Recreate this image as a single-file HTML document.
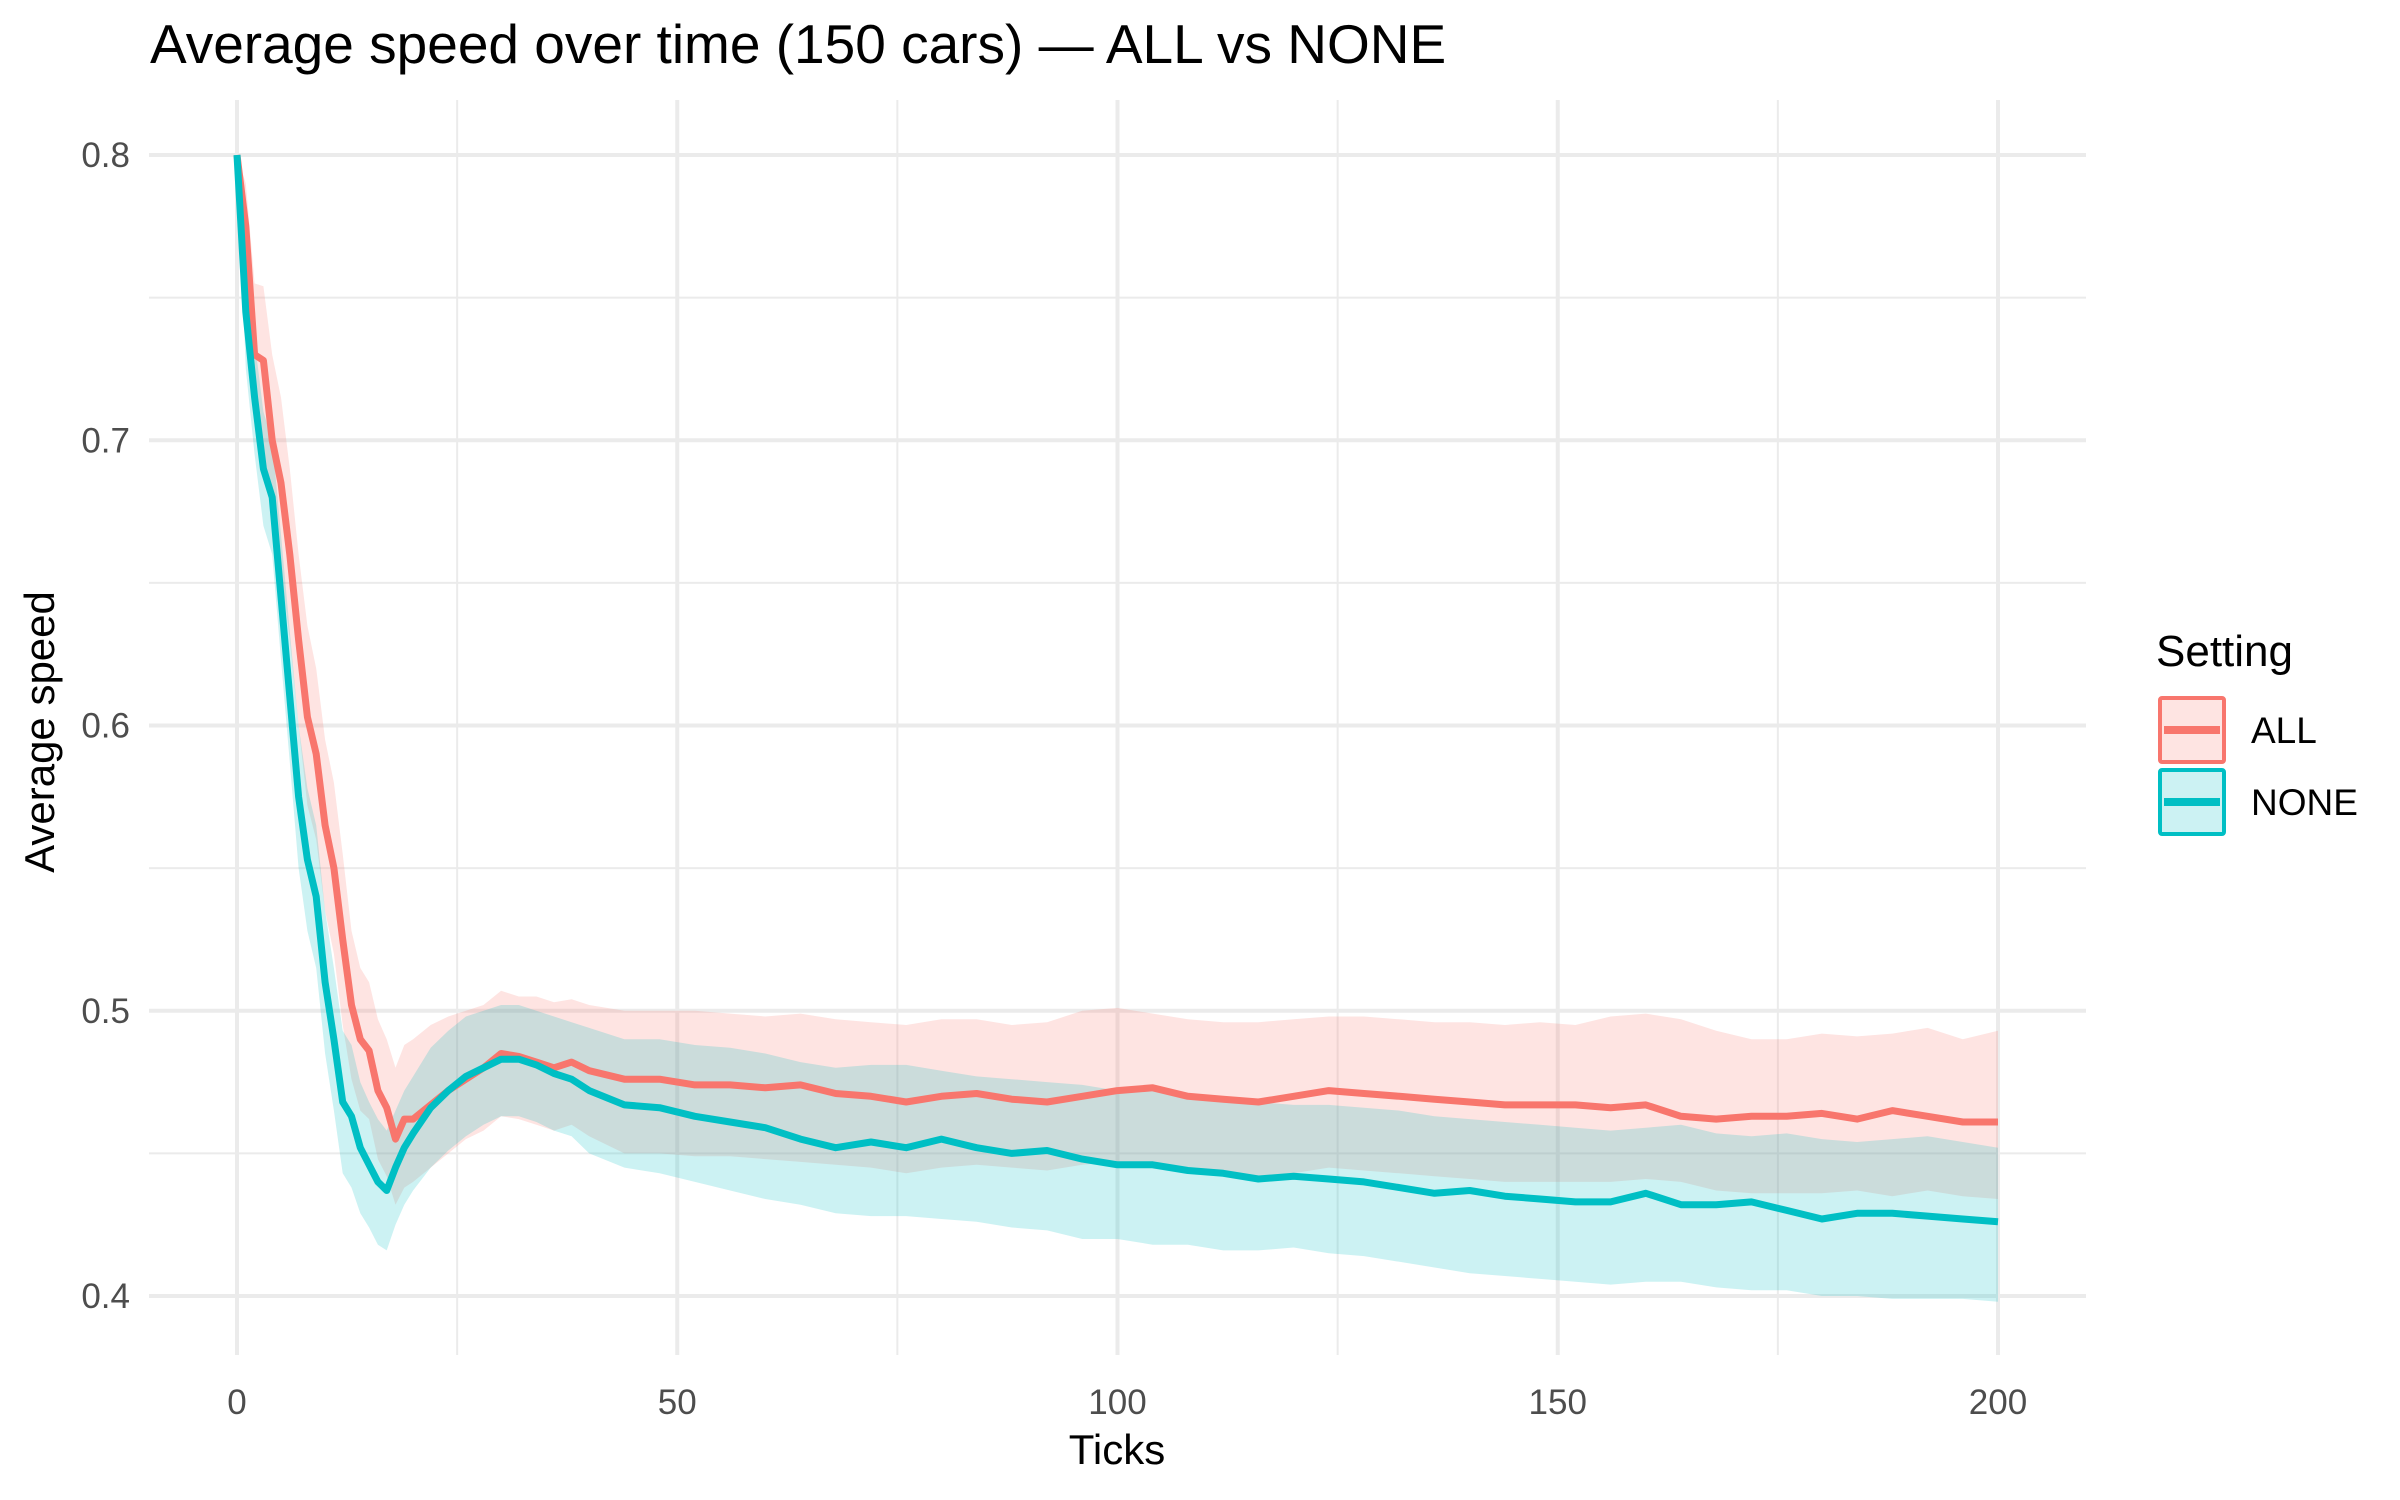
<!DOCTYPE html>
<html><head><meta charset="utf-8"><style>
html,body{margin:0;padding:0;background:#fff;}
svg{display:block;font-family:"Liberation Sans",sans-serif;}
</style></head><body>
<svg id="chart" width="2400" height="1500" viewBox="0 0 2400 1500" xmlns="http://www.w3.org/2000/svg">
<rect width="2400" height="1500" fill="#fff"/>
<g id="grid"></g>
<g id="bands"></g>
<g id="lines"></g>
<g id="axes"></g>
<text x="150" y="63" font-size="55" fill="#000">Average speed over time (150 cars) — ALL vs NONE</text>
<text x="1117" y="1464" font-size="42" text-anchor="middle" fill="#000">Ticks</text>
<text x="0" y="0" font-size="42" text-anchor="middle" fill="#000" transform="translate(54,732) rotate(-90)">Average speed</text>
<g>
<text x="2156" y="666" font-size="44" fill="#000">Setting</text>
<g>
<rect x="2160" y="698" width="64" height="64" fill="rgba(248,118,109,0.2)" stroke="#F8766D" stroke-width="4" rx="2"/>
<line x1="2164" y1="730" x2="2220" y2="730" stroke="#F8766D" stroke-width="8"/>
<text x="2251" y="743" font-size="37" fill="#000">ALL</text>
</g>
<g>
<rect x="2160" y="770" width="64" height="64" fill="rgba(0,191,196,0.2)" stroke="#00BFC4" stroke-width="4" rx="2"/>
<line x1="2164" y1="802" x2="2220" y2="802" stroke="#00BFC4" stroke-width="8"/>
<text x="2251" y="815" font-size="37" fill="#000">NONE</text>
</g>
</g>
</svg>
<script>
const ticks = [0,1,2,3,4,5,6,7,8,9,10,11,12,13,14,15,16,17,18,19,20,22,24,26,28,30,32,34,36,38,40,44,48,52,56,60,64,68,72,76,80,84,88,92,96,100,104,108,112,116,120,124,128,132,136,140,144,148,152,156,160,164,168,172,176,180,184,188,192,196,200];
const allMean = [0.80,0.775,0.73,0.728,0.70,0.685,0.66,0.63,0.603,0.59,0.565,0.55,0.525,0.502,0.49,0.486,0.472,0.466,0.455,0.462,0.462,0.467,0.472,0.476,0.48,0.485,0.484,0.482,0.48,0.482,0.479,0.476,0.476,0.474,0.474,0.473,0.474,0.471,0.47,0.468,0.47,0.471,0.469,0.468,0.47,0.472,0.473,0.47,0.469,0.468,0.47,0.472,0.471,0.47,0.469,0.468,0.467,0.467,0.467,0.466,0.467,0.463,0.462,0.463,0.463,0.464,0.462,0.465,0.463,0.461,0.461];
const allHi = [0.80,0.79,0.755,0.754,0.73,0.715,0.69,0.66,0.635,0.62,0.595,0.58,0.555,0.528,0.515,0.51,0.497,0.49,0.48,0.488,0.49,0.495,0.498,0.5,0.502,0.507,0.505,0.505,0.503,0.504,0.502,0.5,0.5,0.5,0.499,0.498,0.499,0.497,0.496,0.495,0.497,0.497,0.495,0.496,0.5,0.501,0.499,0.497,0.496,0.496,0.497,0.498,0.498,0.497,0.496,0.496,0.495,0.496,0.495,0.498,0.499,0.497,0.493,0.49,0.49,0.492,0.491,0.492,0.494,0.49,0.493];
const allLo = [0.80,0.76,0.705,0.7,0.67,0.655,0.63,0.6,0.572,0.56,0.535,0.52,0.495,0.476,0.465,0.462,0.448,0.442,0.432,0.438,0.44,0.445,0.45,0.455,0.458,0.463,0.462,0.46,0.458,0.46,0.456,0.45,0.45,0.449,0.449,0.448,0.447,0.446,0.445,0.443,0.445,0.446,0.445,0.444,0.446,0.447,0.445,0.443,0.442,0.441,0.443,0.445,0.444,0.443,0.442,0.441,0.44,0.44,0.44,0.44,0.441,0.44,0.437,0.436,0.436,0.436,0.437,0.435,0.437,0.435,0.434];
const noneMean = [0.80,0.745,0.715,0.69,0.68,0.645,0.61,0.575,0.553,0.54,0.51,0.49,0.468,0.463,0.452,0.446,0.44,0.437,0.445,0.452,0.457,0.466,0.472,0.477,0.48,0.483,0.483,0.481,0.478,0.476,0.472,0.467,0.466,0.463,0.461,0.459,0.455,0.452,0.454,0.452,0.455,0.452,0.45,0.451,0.448,0.446,0.446,0.444,0.443,0.441,0.442,0.441,0.44,0.438,0.436,0.437,0.435,0.434,0.433,0.433,0.436,0.432,0.432,0.433,0.43,0.427,0.429,0.429,0.428,0.427,0.426];
const noneHi = [0.80,0.765,0.735,0.71,0.7,0.667,0.633,0.6,0.578,0.565,0.535,0.515,0.493,0.488,0.475,0.468,0.462,0.458,0.465,0.472,0.477,0.487,0.493,0.498,0.5,0.502,0.502,0.5,0.498,0.496,0.494,0.49,0.49,0.488,0.487,0.485,0.482,0.48,0.481,0.481,0.479,0.477,0.476,0.475,0.474,0.472,0.472,0.47,0.469,0.468,0.467,0.467,0.466,0.465,0.463,0.462,0.461,0.46,0.459,0.458,0.459,0.46,0.457,0.456,0.457,0.455,0.454,0.455,0.456,0.454,0.452];
const noneLo = [0.80,0.725,0.695,0.67,0.66,0.623,0.587,0.55,0.528,0.515,0.485,0.465,0.443,0.438,0.429,0.424,0.418,0.416,0.425,0.432,0.437,0.445,0.451,0.456,0.46,0.463,0.463,0.461,0.458,0.456,0.45,0.445,0.443,0.44,0.437,0.434,0.432,0.429,0.428,0.428,0.427,0.426,0.424,0.423,0.42,0.42,0.418,0.418,0.416,0.416,0.417,0.415,0.414,0.412,0.41,0.408,0.407,0.406,0.405,0.404,0.405,0.405,0.403,0.402,0.402,0.4,0.4,0.399,0.399,0.399,0.398];
const xTicks = [0,50,100,150,200];
const xMinor = [25,75,125,175];
const yTicks = [0.4,0.5,0.6,0.7,0.8];
const yMinor = [0.45,0.55,0.65,0.75];

const NS = "http://www.w3.org/2000/svg";
const X0 = 237, X1 = 1998, Y04 = 1296, Y08 = 155;
const PL = 149, PR = 2086, PT = 100, PB = 1355;
function sx(v){ return X0 + (v - 0) / 200 * (X1 - X0); }
function sy(v){ return Y04 + (v - 0.4) / 0.4 * (Y08 - Y04); }
function mk(tag, attrs, parent){
  const e = document.createElementNS(NS, tag);
  for (const k in attrs) e.setAttribute(k, attrs[k]);
  parent.appendChild(e);
  return e;
}
const grid = document.getElementById('grid');
const axes = document.getElementById('axes');
yMinor.forEach(v => {
  const l = mk('line', {x1:PL, x2:PR, y1:sy(v), y2:sy(v), stroke:'#EBEBEB', 'stroke-width':2}, grid);
  
  
});
xMinor.forEach(v => {
  const l = mk('line', {x1:sx(v), x2:sx(v), y1:PT, y2:PB, stroke:'#EBEBEB', 'stroke-width':2}, grid);
  
  
});
yTicks.forEach(v => {
  const l = mk('line', {x1:PL, x2:PR, y1:sy(v), y2:sy(v), stroke:'#EBEBEB', 'stroke-width':4}, grid);
  
  
  const t = mk('text', {x:130, y:sy(v)+12, 'font-size':35, fill:'#4D4D4D', 'text-anchor':'end'}, axes);
  t.textContent = v.toFixed(1);
  
  
});
xTicks.forEach(v => {
  const l = mk('line', {x1:sx(v), x2:sx(v), y1:PT, y2:PB, stroke:'#EBEBEB', 'stroke-width':4}, grid);
  
  
  const t = mk('text', {x:sx(v), y:1414, 'font-size':35, fill:'#4D4D4D', 'text-anchor':'middle'}, axes);
  t.textContent = String(v);
  
  
});
function band(lo, hi, color, name){
  let d = '';
  ticks.forEach((t,i) => { d += (i ? 'L' : 'M') + sx(t).toFixed(1) + ',' + sy(hi[i]).toFixed(1); });
  for (let i = ticks.length-1; i >= 0; i--) d += 'L' + sx(ticks[i]).toFixed(1) + ',' + sy(lo[i]).toFixed(1);
  const p = mk('path', {d: d + 'Z', fill: color, 'fill-opacity': 0.2}, document.getElementById('bands'));
  
  
}
function line(vals, color, name){
  let d = '';
  ticks.forEach((t,i) => { d += (i ? 'L' : 'M') + sx(t).toFixed(1) + ',' + sy(vals[i]).toFixed(1); });
  const p = mk('path', {d: d, fill: 'none', stroke: color, 'stroke-width': 7, 'stroke-linejoin': 'round'}, document.getElementById('lines'));
  
  
}
band(allLo, allHi, '#F8766D', 'all-ribbon');
band(noneLo, noneHi, '#00BFC4', 'none-ribbon');
line(allMean, '#F8766D', 'all-line');
line(noneMean, '#00BFC4', 'none-line');
</script>
</body></html>
